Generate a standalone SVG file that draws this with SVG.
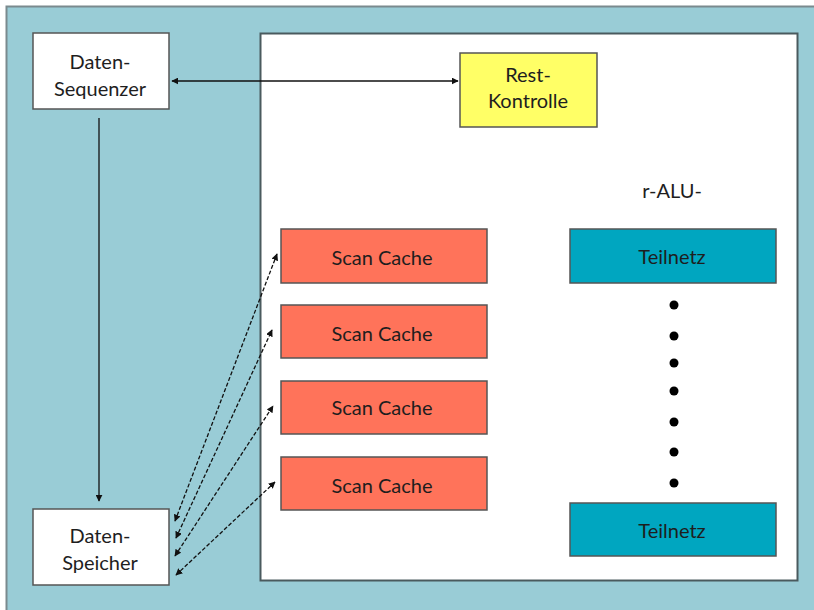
<svg xmlns="http://www.w3.org/2000/svg" width="814" height="610" viewBox="0 0 814 610">
  <defs>
    <marker id="tip" viewBox="0 0 10 10" refX="9" refY="5" markerWidth="7" markerHeight="7" orient="auto-start-reverse" markerUnits="userSpaceOnUse">
      <path d="M0,0 L10,5 L0,10 z" fill="#111"/>
    </marker>
    <style>
      .lbl { font-family: Lato, "Open Sans", "Liberation Sans", sans-serif; font-size: 20px; fill: #1e1e1e; text-anchor: middle; }
      .box { stroke: #555; stroke-width: 1.5; }
      .white { fill: #ffffff; }
      .scan { fill: #ff735a; }
      .net { fill: #00a6c0; }
      .conn { stroke: #111; stroke-width: 1.3; fill: none; }
      .dash { stroke-dasharray: 4 2; }
      .dot { fill: #000; }
    </style>
  </defs>

  <rect x="0" y="0" width="814" height="610" fill="#ffffff"/>
  <!-- outer panel -->
  <rect x="6.5" y="6.5" width="820" height="620" fill="#99ccd6" stroke="#7a8a8e" stroke-width="2"/>
  <!-- r-ALU area -->
  <rect x="260.5" y="33.5" width="537" height="547" fill="#ffffff" stroke="#4a5a5e" stroke-width="2"/>

  <g id="daten-sequenzer">
    <rect class="box white" x="33" y="33" width="136" height="76"/>
    <text class="lbl" x="100" y="69">Daten-</text>
    <text class="lbl" x="100" y="96">Sequenzer</text>
  </g>

  <g id="rest-kontrolle">
    <rect class="box" x="460" y="53" width="137" height="74" fill="#ffff66"/>
    <text class="lbl" x="528" y="82">Rest-</text>
    <text class="lbl" x="528" y="108">Kontrolle</text>
  </g>

  <g id="daten-speicher">
    <rect class="box white" x="33" y="509" width="136" height="76"/>
    <text class="lbl" x="100" y="543">Daten-</text>
    <text class="lbl" x="100" y="570">Speicher</text>
  </g>

  <g id="scan-cache-1">
    <rect class="box scan" x="281" y="229" width="206" height="54"/>
    <text class="lbl" x="382" y="265">Scan Cache</text>
  </g>
  <g id="scan-cache-2">
    <rect class="box scan" x="281" y="305" width="206" height="53"/>
    <text class="lbl" x="382" y="341">Scan Cache</text>
  </g>
  <g id="scan-cache-3">
    <rect class="box scan" x="281" y="381" width="206" height="53"/>
    <text class="lbl" x="382" y="415">Scan Cache</text>
  </g>
  <g id="scan-cache-4">
    <rect class="box scan" x="281" y="457" width="206" height="53"/>
    <text class="lbl" x="382" y="493">Scan Cache</text>
  </g>

  <g id="r-alu-label">
    <text class="lbl" x="672" y="198" font-size="18">r-ALU-</text>
  </g>

  <g id="teilnetz-1">
    <rect class="box net" x="570" y="229" width="206" height="54"/>
    <text class="lbl" x="672" y="264">Teilnetz</text>
  </g>
  <g id="teilnetz-n">
    <rect class="box net" x="570" y="503" width="206" height="53"/>
    <text class="lbl" x="672" y="538">Teilnetz</text>
  </g>

  <g id="ellipsis">
    <circle class="dot" cx="674" cy="305" r="4.5"/>
    <circle class="dot" cx="674" cy="336" r="4.5"/>
    <circle class="dot" cx="674" cy="363" r="4.5"/>
    <circle class="dot" cx="674" cy="391" r="4.5"/>
    <circle class="dot" cx="674" cy="422" r="4.5"/>
    <circle class="dot" cx="674" cy="452" r="4.5"/>
    <circle class="dot" cx="674" cy="483" r="4.5"/>
  </g>

  <g id="connectors">
    <line class="conn" x1="172" y1="81" x2="458" y2="81" marker-start="url(#tip)" marker-end="url(#tip)"/>
    <line class="conn" x1="99" y1="118" x2="99" y2="501" marker-end="url(#tip)"/>
    <line class="conn dash" x1="175" y1="521" x2="277" y2="254" marker-start="url(#tip)" marker-end="url(#tip)"/>
    <line class="conn dash" x1="176" y1="538" x2="272" y2="330" marker-start="url(#tip)" marker-end="url(#tip)"/>
    <line class="conn dash" x1="175" y1="556" x2="273" y2="406" marker-start="url(#tip)" marker-end="url(#tip)"/>
    <line class="conn dash" x1="176" y1="575" x2="275" y2="482" marker-start="url(#tip)" marker-end="url(#tip)"/>
  </g>
</svg>
